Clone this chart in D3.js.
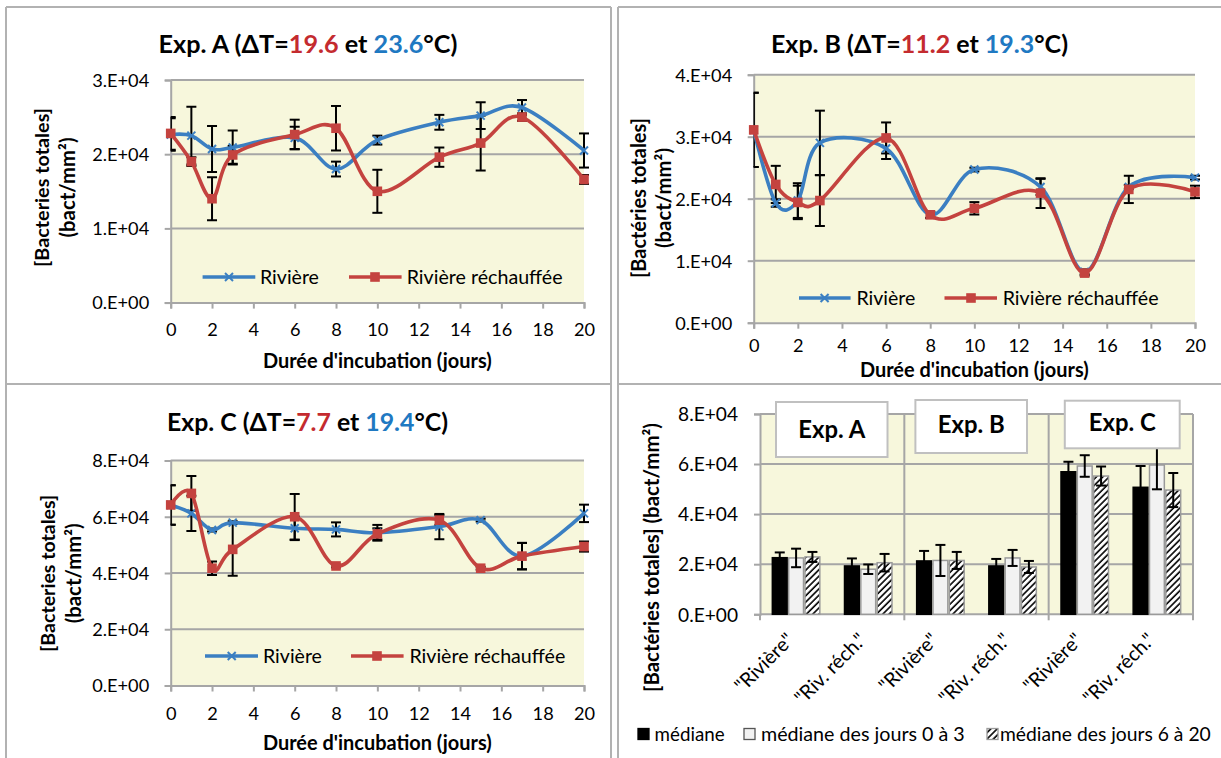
<!DOCTYPE html>
<html><head><meta charset="utf-8">
<script src="https://cdn.jsdelivr.net/npm/d3@7"></script>
<style>body{margin:0;background:#fff;} svg{display:block;font-family:Lato,'Open Sans',sans-serif;}</style>
</head><body><svg id="c" width="1221" height="758"></svg>
<script>
// ---------------- DATA ----------------
const days = [0,1,2,3,6,8,10,13,15,17,20];
const xTickValues = [0,2,4,6,8,10,12,14,16,18,20];
const seriesNames = ["Rivière","Rivière réchauffée"];

const aRiviere        = [22650,22500,20700,20900,22200,18000,21900,24300,25200,26300,20500];
const aRiviereErr     = [2200,3900,3100,2300,1500,1000,600,1000,1800,1000,2300];
const aRechauffee     = [22800,19000,14000,19900,22650,23500,15000,19600,21500,25000,16600];
const aRechauffeeErr  = [2200,600,2900,1200,2000,3000,2900,1300,3700,500,600];
const aYTickValues    = [0,10000,20000,30000];
const aYTickLabels    = ["0.E+00","1.E+04","2.E+04","3.E+04"];

const bRiviere        = [31100,19300,19700,29000,28100,17400,24700,21900,8200,21900,23400];
const bRiviereErr     = [6000,600,2800,5200,1700,500,300,1300,400,300,300];
const bRechauffee     = [31100,22300,19400,19700,29800,17400,18450,20900,8000,21500,21100];
const bRechauffeeErr  = [6000,3000,2700,4100,2500,500,1000,2400,400,2200,1000];
const bYTickValues    = [0,10000,20000,30000,40000];
const bYTickLabels    = ["0.E+00","1.E+04","2.E+04","3.E+04","4.E+04"];

const cRiviere        = [64200,61200,55300,57900,55900,55500,54300,56500,58800,46000,61200];
const cRiviereErr     = [7000,6300,500,500,4200,2500,2800,4500,500,4700,3100];
const cRechauffee     = [64200,68300,41700,48400,60000,42500,53900,58800,41700,46000,49400];
const cRechauffeeErr  = [7000,6200,2400,9400,8100,500,2000,1800,500,4700,1800];
const cYTickValues    = [0,20000,40000,60000,80000];
const cYTickLabels    = ["0.E+00","2.E+04","4.E+04","6.E+04","8.E+04"];

const barCategories   = ['"Rivière"','"Riv. réch."','"Rivière"','"Riv. réch."','"Rivière"','"Riv. réch."'];
const barGroups       = ["Exp. A","Exp. B","Exp. C"];
const barSeriesNames  = ["médiane","médiane des jours 0 à 3","médiane des jours 6 à 20"];
const mediane         = [22600,19300,21300,19300,56900,50700];
const medianeErr      = [2100,3000,4000,2800,4000,8500];
const mediane0a3      = [22500,18000,21500,22500,59200,59600];
const mediane0a3Err   = [3700,1900,6200,3200,4300,9700];
const mediane6a20     = [22900,20600,21500,18900,55200,49600];
const mediane6a20Err  = [2000,3500,3400,2400,3800,6800];
const barYTickValues  = [0,20000,40000,60000,80000];
const barYTickLabels  = ["0.E+00","2.E+04","4.E+04","6.E+04","8.E+04"];

// ---------------- STYLE ----------------
const svg = d3.select("#c");
const GRID="#a6a6a6", BG="#f7f7dc", BLUE="#3b7fc2", RED="#c4433f", TRED="#c42b2f", TBLUE="#1f79c2", BORDER="#b2b2b2";

function fitText(t, w){
  const L = t.node().getComputedTextLength();
  const fs = parseFloat(t.attr("font-size"));
  t.attr("font-size", (fs*w/L).toFixed(2));
}
function measureSize(str, w, weight){
  const t = svg.append("text").attr("font-size",20).attr("font-weight",weight||"normal").text(str);
  const L = t.node().getComputedTextLength(); t.remove();
  return 20*w/L;
}
const tickFS = measureSize("0.E+00", 57);
const barTickFS = measureSize("0.E+00", 60);
const barLabelFS = measureSize('"Rivière"', 74);

// hatch pattern
const defs = svg.append("defs");
const pat = defs.append("pattern").attr("id","hatch").attr("patternUnits","userSpaceOnUse")
  .attr("width",4.5).attr("height",4.5).attr("patternTransform","rotate(45)");
pat.append("rect").attr("width",4.5).attr("height",4.5).attr("fill","#fff");
pat.append("line").attr("x1",1).attr("y1",0).attr("x2",1).attr("y2",4.5).attr("stroke","#000").attr("stroke-width",1.6);

// panel borders
[[6,7,611,7],[6,7,6,758],[611,7,611,758],[618,7,618,758],[618,7,1221,7],[6,384,611,384],[618,384,1221,384]]
  .forEach(b=>svg.append("line").attr("x1",b[0]).attr("y1",b[1]).attr("x2",b[2]).attr("y2",b[3])
  .attr("stroke",BORDER).attr("stroke-width",2));

// ---------------- LINE CHART ----------------
function lineChart(o, id){
  const g = svg.append("g");
  const x = d3.scaleLinear().domain([0,20]).range([o.left,o.right]);
  const y = d3.scaleLinear().domain([0,o.yTicks[o.yTicks.length-1]]).range([o.bottom,o.top]);
  g.append("rect").attr("x",o.left).attr("y",o.top).attr("width",o.right-o.left).attr("height",o.bottom-o.top).attr("fill",BG);
  g.selectAll(".gy").data(o.yTicks.slice(1)).join("line")
    .attr("x1",o.left).attr("x2",o.right).attr("y1",d=>y(d)).attr("y2",d=>y(d))
    .attr("stroke",GRID).attr("stroke-width",2);
  // y axis
  const ya = g.append("g").attr("transform",`translate(${o.left},0)`)
    .call(d3.axisLeft(y).tickValues(o.yTicks).tickFormat((d,i)=>o.yLabels[i]).tickSizeOuter(0).tickSize(6));
  ya.select(".domain").attr("stroke",GRID).attr("stroke-width",2);
  ya.selectAll(".tick line").attr("stroke",GRID).attr("stroke-width",2);
  ya.selectAll(".tick text").attr("x",-21.5).attr("dy","0.35em").attr("font-size",tickFS)
    .attr("font-family","Lato,'Open Sans',sans-serif").attr("fill","#000");
  // x axis
  const xa = g.append("g").attr("transform",`translate(0,${o.bottom})`)
    .call(d3.axisBottom(x).tickValues(xTickValues).tickSizeOuter(0).tickSize(6));
  xa.select(".domain").attr("stroke",GRID).attr("stroke-width",2);
  xa.selectAll(".tick line").attr("stroke",GRID).attr("stroke-width",2);
  xa.selectAll(".tick text").attr("y",o.xTickY-o.bottom).attr("dy","0.35em").attr("font-size",tickFS)
    .attr("font-family","Lato,'Open Sans',sans-serif").attr("fill","#000");
  // error bars
  const clip = defs.append("clipPath").attr("id","clip"+id);
  clip.append("rect").attr("x",o.left).attr("y",0).attr("width",o.right-o.left+12).attr("height",758);
  const eg = g.append("g").attr("clip-path",`url(#clip${id})`);
  o.series.forEach(s=>{
    const pts = days.map((d,i)=>({d, v:s.vals[i], e:s.errs[i]}));
    const sg = eg.append("g").attr("stroke","#000").attr("stroke-width",2);
    sg.selectAll(".v").data(pts).join("line").attr("x1",p=>x(p.d)).attr("x2",p=>x(p.d))
      .attr("y1",p=>y(p.v-p.e)).attr("y2",p=>y(p.v+p.e));
    sg.selectAll(".t").data(pts).join("line").attr("x1",p=>x(p.d)-5).attr("x2",p=>x(p.d)+5)
      .attr("y1",p=>y(p.v+p.e)).attr("y2",p=>y(p.v+p.e));
    sg.selectAll(".b").data(pts).join("line").attr("x1",p=>x(p.d)-5).attr("x2",p=>x(p.d)+5)
      .attr("y1",p=>y(p.v-p.e)).attr("y2",p=>y(p.v-p.e));
  });
  // lines + markers
  const line = d3.line().x(p=>x(p[0])).y(p=>y(p[1])).curve(d3.curveCardinal.tension(0));
  o.series.forEach(s=>{
    const pts = days.map((d,i)=>[d,s.vals[i]]);
    g.append("path").attr("d",line(pts)).attr("fill","none").attr("stroke",s.color).attr("stroke-width",3.6);
    drawMarkers(g, pts.map(p=>[x(p[0]),y(p[1])]), s);
  });
  // title
  const t = g.append("text").attr("x",o.title.cx).attr("y",o.title.y).attr("text-anchor","middle")
    .attr("font-weight","bold").attr("font-size",24);
  o.title.parts.forEach(p=>t.append("tspan").attr("fill",p[1]).text(p[0]));
  fitText(t,o.title.w);
  // x title
  const xt = g.append("text").attr("x",(o.left+o.right)/2).attr("y",o.xTitleY).attr("text-anchor","middle")
    .attr("font-weight","bold").attr("font-size",19).text("Durée d'incubation (jours)");
  fitText(xt,229);
  // y title
  o.yTitle.lines.forEach((ln,i)=>{
    const yt = g.append("text").attr("transform",`translate(${o.yTitle.xs[i]},${o.yTitle.cy}) rotate(-90)`)
      .attr("text-anchor","middle").attr("dominant-baseline","central").attr("font-weight","bold")
      .attr("font-size",19).text(ln);
    fitText(yt,o.yTitle.ws[i]);
  });
  // legend
  const L = o.legend;
  o.series.forEach((s,i)=>{
    const c = L.items[i];
    g.append("line").attr("x1",c[0]).attr("x2",c[1]).attr("y1",L.y).attr("y2",L.y).attr("stroke",s.color).attr("stroke-width",3.6);
    drawMarkers(g, [[c[2],L.y]], s);
    const lt = g.append("text").attr("x",c[3]).attr("y",L.y).attr("dy","0.35em").attr("font-size",19).text(seriesNames[i]);
    fitText(lt, L.ws[i]);
  });
}
function drawMarkers(g, pts, s){
  if(s.marker==="x"){
    const mg = g.append("g").attr("stroke",s.color).attr("stroke-width",2);
    pts.forEach(p=>{
      mg.append("line").attr("x1",p[0]-4).attr("y1",p[1]-4).attr("x2",p[0]+4).attr("y2",p[1]+4);
      mg.append("line").attr("x1",p[0]-4).attr("y1",p[1]+4).attr("x2",p[0]+4).attr("y2",p[1]-4);
    });
  } else {
    g.append("g").selectAll("rect").data(pts).join("rect").attr("x",p=>p[0]-4.8).attr("y",p=>p[1]-4.8)
      .attr("width",9.6).attr("height",9.6).attr("fill",s.color);
  }
}

lineChart({left:170.7,right:584,top:80,bottom:302.6,yTicks:aYTickValues,yLabels:aYTickLabels,
  series:[{vals:aRiviere,errs:aRiviereErr,color:BLUE,marker:"x"},{vals:aRechauffee,errs:aRechauffeeErr,color:RED,marker:"sq"}],
  title:{parts:[["Exp. A (ΔT=","#000"],["19.6",TRED],[" et ","#000"],["23.6",TBLUE],["°C)","#000"]],cx:308,y:53,w:299},
  xTickY:330, xTitleY:368,
  yTitle:{lines:["[Bacteries totales]","(bact/mm²)"],xs:[40.7,67],cy:187.5,ws:[159,100]},
  legend:{y:277,items:[[202.6,255.3,229,260],[349,401.6,375,406.7]],ws:[59,156]}}, "A");

lineChart({left:753.7,right:1195,top:74.7,bottom:322.7,yTicks:bYTickValues,yLabels:bYTickLabels,
  series:[{vals:bRiviere,errs:bRiviereErr,color:BLUE,marker:"x"},{vals:bRechauffee,errs:bRechauffeeErr,color:RED,marker:"sq"}],
  title:{parts:[["Exp. B (ΔT=","#000"],["11.2",TRED],[" et ","#000"],["19.3",TBLUE],["°C)","#000"]],cx:919.5,y:53,w:297},
  xTickY:345.5, xTitleY:376.5,
  yTitle:{lines:["[Bactéries totales]","(bact/mm²)"],xs:[638,663],cy:198,ws:[160,100]},
  legend:{y:298,items:[[799,850.6,824.6,856.4],[944.5,997,971,1002.7]],ws:[59,156]}}, "B");

lineChart({left:170.7,right:584,top:460.5,bottom:685.5,yTicks:cYTickValues,yLabels:cYTickLabels,
  series:[{vals:cRiviere,errs:cRiviereErr,color:BLUE,marker:"x"},{vals:cRechauffee,errs:cRechauffeeErr,color:RED,marker:"sq"}],
  title:{parts:[["Exp. C (ΔT=","#000"],["7.7",TRED],[" et ","#000"],["19.4",TBLUE],["°C)","#000"]],cx:307.5,y:430.7,w:281},
  xTickY:713.3, xTitleY:750,
  yTitle:{lines:["[Bacteries totales]","(bact/mm²)"],xs:[47.5,72.8],cy:573.3,ws:[157,100]},
  legend:{y:656,items:[[205,258,231.7,263],[351,403.6,377,409.4]],ws:[59,156]}}, "C");

// ---------------- BAR CHART ----------------
(function(){
  const left=760,right=1193,top=413.9,bottom=614.3;
  const g = svg.append("g");
  const x0 = d3.scaleBand().domain(d3.range(barCategories.length)).range([left,right]);
  const inner = 49;
  const x1 = d3.scaleBand().domain([0,1,2]).range([(x0.bandwidth()-inner)/2,(x0.bandwidth()+inner)/2]);
  const y = d3.scaleLinear().domain([0,80000]).range([bottom,top]);
  g.append("rect").attr("x",left).attr("y",top).attr("width",right-left).attr("height",bottom-top).attr("fill",BG);
  g.selectAll(".gy").data(barYTickValues.slice(1)).join("line")
    .attr("x1",left).attr("x2",right).attr("y1",d=>y(d)).attr("y2",d=>y(d)).attr("stroke",GRID).attr("stroke-width",2);
  const vx = [2,4].map(i=>x0(i)).concat([right]);
  g.selectAll(".gx").data(vx).join("line").attr("x1",d=>d).attr("x2",d=>d).attr("y1",top).attr("y2",bottom+6)
    .attr("stroke",GRID).attr("stroke-width",2);
  const ya = g.append("g").attr("transform",`translate(${left},0)`)
    .call(d3.axisLeft(y).tickValues(barYTickValues).tickFormat((d,i)=>barYTickLabels[i]).tickSizeOuter(0).tickSize(6));
  ya.select(".domain").attr("stroke",GRID).attr("stroke-width",2);
  ya.selectAll(".tick line").attr("stroke",GRID).attr("stroke-width",2);
  ya.selectAll(".tick text").attr("x",-22).attr("dy","0.35em").attr("font-size",barTickFS)
    .attr("font-family","Lato,'Open Sans',sans-serif").attr("fill","#000");
  g.append("line").attr("x1",left).attr("x2",right).attr("y1",bottom).attr("y2",bottom).attr("stroke",GRID).attr("stroke-width",2);
  g.append("line").attr("x1",left).attr("x2",left).attr("y1",bottom).attr("y2",bottom+6).attr("stroke",GRID).attr("stroke-width",2);

  const series = [
    {vals:mediane,errs:medianeErr,fill:"#000",stroke:"#000"},
    {vals:mediane0a3,errs:mediane0a3Err,fill:"#f2f2f2",stroke:"#9a9a9a"},
    {vals:mediane6a20,errs:mediane6a20Err,fill:"url(#hatch)",stroke:"#9a9a9a"}];
  series.forEach((s,k)=>{
    const data = s.vals.map((v,i)=>({i,v,e:s.errs[i]}));
    g.append("g").selectAll("rect").data(data).join("rect")
      .attr("x",d=>x0(d.i)+x1(k)+0.75).attr("width",x1.bandwidth()-1.5)
      .attr("y",d=>y(d.v)).attr("height",d=>bottom-y(d.v))
      .attr("fill",s.fill).attr("stroke",s.stroke).attr("stroke-width",1.5);
  });
  series.forEach((s,k)=>{
    const data = s.vals.map((v,i)=>({cx:x0(i)+x1(k)+x1.bandwidth()/2,v,e:s.errs[i]}));
    const eg = g.append("g").attr("stroke","#000").attr("stroke-width",2);
    eg.selectAll(".v").data(data).join("line").attr("x1",d=>d.cx).attr("x2",d=>d.cx).attr("y1",d=>y(d.v-d.e)).attr("y2",d=>y(d.v+d.e));
    eg.selectAll(".t").data(data).join("line").attr("x1",d=>d.cx-5).attr("x2",d=>d.cx+5).attr("y1",d=>y(d.v+d.e)).attr("y2",d=>y(d.v+d.e));
    eg.selectAll(".b").data(data).join("line").attr("x1",d=>d.cx-5).attr("x2",d=>d.cx+5).attr("y1",d=>y(d.v-d.e)).attr("y2",d=>y(d.v-d.e));
  });
  // group label boxes
  const boxes = [[776,402,111.5,55],[915.4,400,111.6,53],[1064.8,400.7,114.9,47.6]];
  barGroups.forEach((gname,i)=>{
    const b = boxes[i];
    g.append("rect").attr("x",b[0]).attr("y",b[1]).attr("width",b[2]).attr("height",b[3])
      .attr("fill","#fff").attr("stroke","#c0c0c0").attr("stroke-width",2);
    const t = g.append("text").attr("x",b[0]+b[2]/2).attr("y",b[1]+b[3]/2-(i===0?0:2)).attr("dy","0.35em")
      .attr("text-anchor","middle").attr("font-weight","bold").attr("font-size",24).text(gname);
    fitText(t,67);
  });
  // x labels
  barCategories.forEach((c,i)=>{
    g.append("text").attr("transform",`translate(${x0(i)+x0.bandwidth()/2-1},${bottom+27}) rotate(-45)`)
      .attr("text-anchor","end").attr("font-size",barLabelFS).text(c);
  });
  // y title
  const yt = g.append("text").attr("transform",`translate(650.7,557.5) rotate(-90)`)
    .attr("text-anchor","middle").attr("dominant-baseline","central").attr("font-weight","bold")
    .attr("font-size",19).text("[Bactéries totales] (bact/mm²)");
  fitText(yt,269);
  // legend
  const leg = [[638,654.6,70,"#000","#000"],[744,761,204,"#f2f2f2","#555"],[987,1000,211,"url(#hatch)","#9a9a9a"]];
  barSeriesNames.forEach((n,i)=>{
    const l = leg[i];
    g.append("rect").attr("x",l[0]).attr("y",728.5).attr("width",11).attr("height",11).attr("fill",l[3]).attr("stroke",l[4]).attr("stroke-width",1.3);
    const t = g.append("text").attr("x",l[1]).attr("y",734).attr("dy","0.35em").attr("font-size",19).text(n);
    fitText(t,l[2]);
  });
})();
</script></body></html>
